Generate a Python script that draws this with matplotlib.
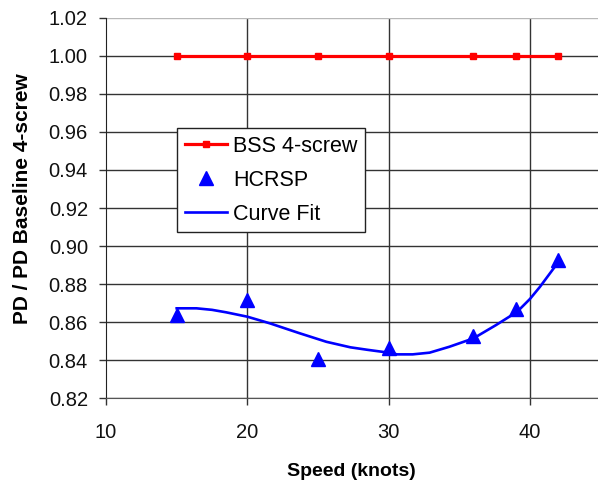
import matplotlib
matplotlib.use('Agg')
import matplotlib.pyplot as plt

plt.rcParams['font.family'] = ['Liberation Sans', 'DejaVu Sans']

# Propulsive demand relative to the 4-screw baseline
bss_speed = [15, 20, 25, 30, 36, 39, 42]
bss_ratio = [1.0, 1.0, 1.0, 1.0, 1.0, 1.0, 1.0]

hcrsp_speed = [15, 20, 25, 30, 36, 39, 42]
hcrsp_ratio = [0.864, 0.8717, 0.8406, 0.8467, 0.8529, 0.8668, 0.8928]

# Curve fit through the HCRSP points
fit_speed = [15.0, 16.4, 17.5, 18.5, 20.0, 21.6, 23.7, 25.6, 27.3, 28.5, 30.0,
             30.6, 31.7, 32.9, 34.3, 36.0, 37.6, 39.1, 40.0, 40.7, 41.7, 42.0]
fit_ratio = [0.8673, 0.8673, 0.8665, 0.8652, 0.8629, 0.8594, 0.8542, 0.8497,
             0.8468, 0.8455, 0.8440, 0.8431, 0.8431, 0.8440, 0.8471, 0.8515,
             0.8585, 0.8655, 0.8722, 0.8785, 0.8885, 0.8912]

x_ticks = [10, 20, 30, 40]
y_ticks = [0.82, 0.84, 0.86, 0.88, 0.90, 0.92, 0.94, 0.96, 0.98, 1.00, 1.02]

fig = plt.figure(figsize=(5.98, 4.84), dpi=100)
ax = fig.add_axes([0.1773, 0.177, 0.827, 0.7864])

ax.plot(bss_speed, bss_ratio, color='#ff0000', lw=2.3, marker='s', ms=4.8,
        label='BSS 4-screw', zorder=3)
ax.plot(hcrsp_speed, hcrsp_ratio, ls='none', color='#0000ff', marker='^', ms=9.5,
        label='HCRSP', zorder=4)
ax.plot(fit_speed, fit_ratio, color='#0000ff', lw=1.9, label='Curve Fit', zorder=3)

ax.set_xlim(10, 45)
ax.set_ylim(0.82, 1.02)
ax.set_xticks(x_ticks)
ax.set_yticks(y_ticks)
ax.set_yticklabels([f'{v:.2f}' for v in y_ticks])

ax.grid(True, color='#333333', lw=1.0)
ax.set_axisbelow(True)
ax.get_ygridlines()[-1].set_color('#b8b8b8')
ax.get_xgridlines()[0].set_visible(False)

for side in ('top', 'right'):
    ax.spines[side].set_visible(False)
ax.spines['left'].set_color('#222222')
ax.spines['bottom'].set_color('#555555')

ax.tick_params(axis='x', direction='out', length=5, width=1, color='#333333',
               labelsize=14.5, pad=13, labelcolor='#111111')
ax.tick_params(axis='y', direction='out', length=5, width=1, color='#333333',
               labelsize=14.5, pad=8, labelcolor='#111111')

ax.set_xlabel('Speed (knots)', fontsize=14, fontweight='bold')
ax.set_ylabel('PD / PD Baseline 4-screw', fontsize=15, fontweight='bold')
ax.xaxis.set_label_coords(0.497, -0.191)
ax.yaxis.set_label_coords(-0.168, 0.524)
ax.xaxis.label.set_va('center')
ax.yaxis.label.set_va('center')

leg = ax.legend(loc='upper left', bbox_to_anchor=(0.2965, 0.735),
                bbox_transform=fig.transFigure, fontsize=15.5, fancybox=False,
                framealpha=1, edgecolor='#222222', borderpad=0.35,
                handlelength=1.95, handletextpad=0.3, labelspacing=0.6,
                borderaxespad=0)
leg.get_frame().set_linewidth(1.0)

fig.savefig('out.png', dpi=100)
